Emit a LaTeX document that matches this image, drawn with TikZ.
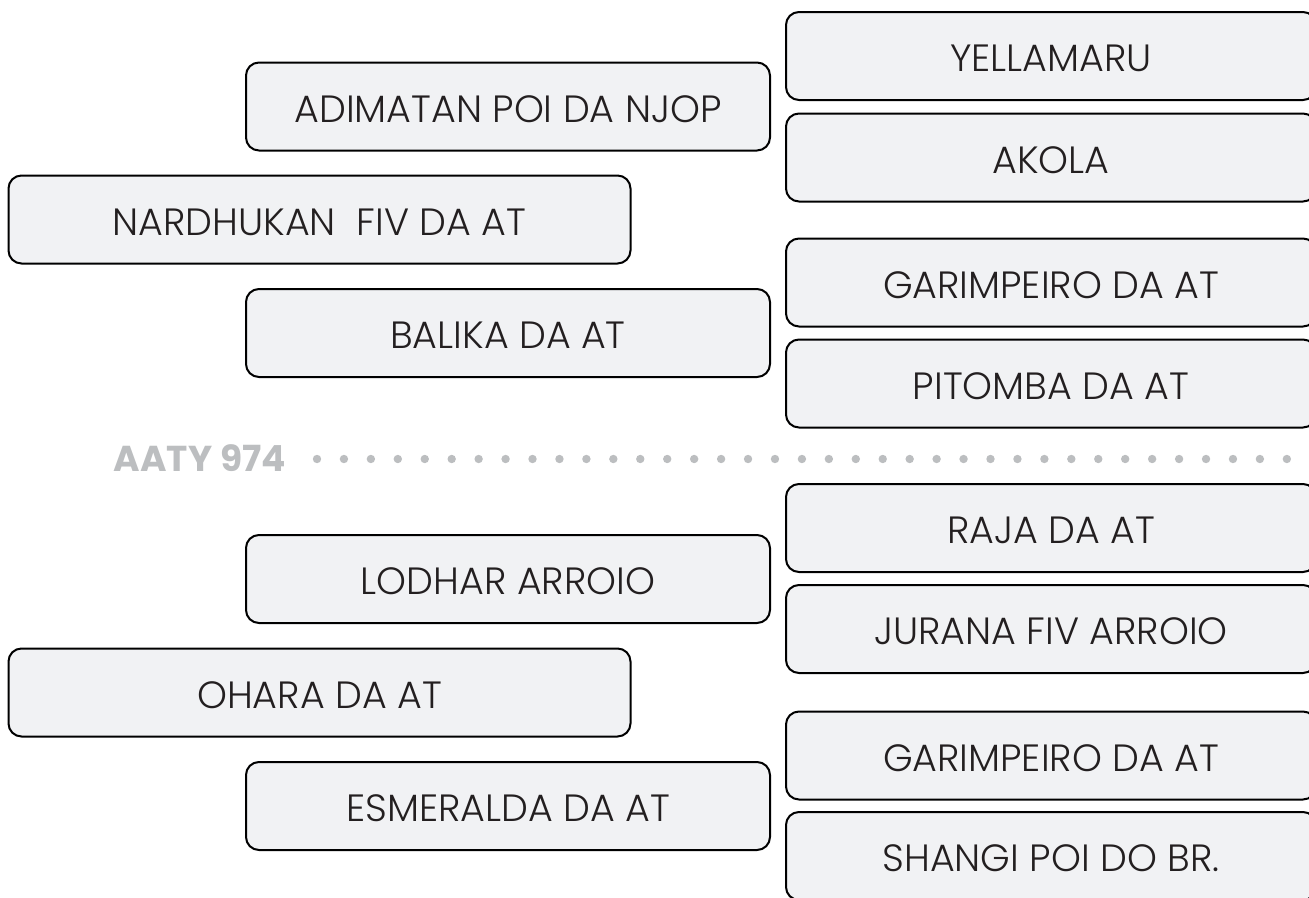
\documentclass[tikz,border=0pt]{standalone}
\usepackage{fontspec}
\setmainfont{Poppins}[UprightFont=* Light, BoldFont=* Bold]
\usetikzlibrary{positioning}
\definecolor{boxfill}{HTML}{F1F2F4}
\definecolor{boxtext}{HTML}{231F20}
\definecolor{dotgray}{HTML}{BCBEC0}
\tikzset{font=\fontsize{38}{44}\selectfont}

\begin{document}
\begin{tikzpicture}
  [x=1pt, y=-1pt,
  box/.style ={rectangle, draw=black, line width=2pt, fill=boxfill, text=boxtext,
    rounded corners=13pt, minimum height=88pt, inner sep=0pt,
    text height=31.5pt, text depth=0pt, align=center},
  lbox/.style ={box, minimum width=622pt},
  mbox/.style ={box, minimum width=524pt},
  rbox/.style ={box, minimum width=530pt},
  label/.style ={font=\fontsize{36}{40}\selectfont\bfseries, text=dotgray,
    inner sep=0pt, text height=25pt, text depth=0pt}]
  \useasboundingbox (0,0) rectangle (1309,897);
  \clip (0,0) rectangle (1309,897);

  % upper half
  \node [rbox] (yellamaru) at (1051,56) {YELLAMARU};
  \node [rbox] (akola) at (1051,157.5) {AKOLA};
  \node [rbox] (garimpeiro1) at (1051,282.5) {GARIMPEIRO DA AT};
  \node [rbox] (pitomba) at (1051,383.5) {PITOMBA DA AT};
  \node [mbox] (adimatan) at (508,106.5) {ADIMATAN POI DA NJOP};
  \node [mbox] (balika) at (508,333) {BALIKA DA AT};
  \node [lbox] (nardhukan) at (319.5,219.5) {NARDHUKAN \ FIV DA AT};

  % divider
  \node [label, anchor=east] (aaty) at (286,458.5) {AATY 974};
  \foreach \i in {0,...,36}
    \fill [dotgray] (317+\i*26.94,459) circle (4.2pt);

  % lower half
  \node [rbox] (raja) at (1051,528) {RAJA DA AT};
  \node [rbox] (jurana) at (1051,629) {JURANA FIV ARROIO};
  \node [rbox] (garimpeiro2) at (1051,755.5) {GARIMPEIRO DA AT};
  \node [rbox] (shangi) at (1051,856) {SHANGI POI DO BR.};
  \node [mbox] (lodhar) at (508,579) {LODHAR ARROIO};
  \node [mbox] (esmeralda) at (508,806) {ESMERALDA DA AT};
  \node [lbox] (ohara) at (319.5,692.5) {OHARA DA AT};
\end{tikzpicture}
\end{document}
